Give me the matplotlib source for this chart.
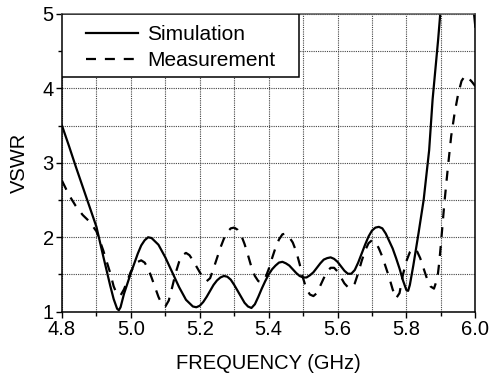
import matplotlib
matplotlib.use("Agg")
import matplotlib.pyplot as plt
from matplotlib.patches import Rectangle
from matplotlib.ticker import MultipleLocator

plt.rcParams['font.family'] = ['Liberation Sans', 'DejaVu Sans']

sim_f = [4.80, 4.82, 4.84, 4.86, 4.88, 4.90, 4.92, 4.94, 4.95, 4.96, 4.965, 4.97, 4.98, 4.99,
         5.00, 5.01, 5.02, 5.03, 5.04, 5.05, 5.06, 5.08, 5.10, 5.12, 5.14, 5.16, 5.18, 5.19,
         5.20, 5.21, 5.22, 5.23, 5.24, 5.25, 5.26, 5.27, 5.28, 5.29, 5.30, 5.31, 5.32, 5.33,
         5.34, 5.35, 5.36, 5.37, 5.38, 5.39, 5.40, 5.41, 5.42, 5.43, 5.44, 5.45, 5.46, 5.47,
         5.48, 5.49, 5.50, 5.51, 5.52, 5.53, 5.54, 5.55, 5.56, 5.57, 5.58, 5.59, 5.60, 5.61,
         5.62, 5.63, 5.64, 5.65, 5.66, 5.67, 5.68, 5.69, 5.70, 5.71, 5.72, 5.73, 5.74, 5.75,
         5.76, 5.77, 5.78, 5.79, 5.80, 5.805, 5.81, 5.82, 5.835, 5.85, 5.866, 5.876, 5.892,
         5.90, 5.92, 5.95, 5.98, 5.99, 6.00]
sim_v = [3.50, 3.23, 2.95, 2.68, 2.41, 2.14, 1.74, 1.35, 1.17, 1.04, 1.02, 1.06, 1.24, 1.38,
         1.52, 1.65, 1.78, 1.89, 1.96, 2.00, 1.99, 1.90, 1.73, 1.53, 1.33, 1.16, 1.07, 1.06,
         1.08, 1.13, 1.20, 1.28, 1.36, 1.42, 1.46, 1.48, 1.47, 1.43, 1.36, 1.28, 1.20, 1.12,
         1.07, 1.05, 1.10, 1.20, 1.31, 1.41, 1.50, 1.57, 1.62, 1.66, 1.67, 1.65, 1.62, 1.57,
         1.52, 1.48, 1.46, 1.46, 1.49, 1.53, 1.59, 1.65, 1.70, 1.72, 1.73, 1.71, 1.67, 1.61,
         1.55, 1.51, 1.51, 1.56, 1.66, 1.78, 1.90, 2.01, 2.09, 2.13, 2.14, 2.12, 2.05, 1.95,
         1.85, 1.72, 1.58, 1.42, 1.29, 1.28, 1.36, 1.62, 2.05, 2.50, 3.17, 3.85, 4.65,
         5.10, 5.80, 6.10, 5.80, 5.30, 4.83]

meas_f = [4.80, 4.82, 4.84, 4.86, 4.88, 4.90, 4.92, 4.94, 4.95, 4.96, 4.97, 4.98, 4.99,
          5.00, 5.01, 5.02, 5.03, 5.04, 5.05, 5.06, 5.07, 5.08, 5.09, 5.10, 5.11, 5.12,
          5.13, 5.14, 5.15, 5.16, 5.17, 5.18, 5.19, 5.20, 5.21, 5.22, 5.23, 5.24, 5.25,
          5.26, 5.27, 5.28, 5.29, 5.30, 5.31, 5.32, 5.33, 5.34, 5.35, 5.36, 5.37, 5.38,
          5.39, 5.40, 5.41, 5.42, 5.43, 5.44, 5.45, 5.46, 5.47, 5.48, 5.49, 5.50, 5.51,
          5.52, 5.53, 5.54, 5.55, 5.56, 5.57, 5.58, 5.59, 5.60, 5.61, 5.62, 5.63, 5.64,
          5.65, 5.66, 5.67, 5.68, 5.69, 5.70, 5.71, 5.72, 5.73, 5.74, 5.75, 5.76, 5.77,
          5.78, 5.79, 5.80, 5.81, 5.82, 5.83, 5.84, 5.85, 5.86, 5.87, 5.88, 5.89, 5.895,
          5.90, 5.91, 5.92, 5.93, 5.94, 5.95, 5.96, 5.97, 5.98, 5.99, 6.00]
meas_v = [2.76, 2.57, 2.42, 2.30, 2.21, 2.08, 1.82, 1.52, 1.34, 1.23, 1.22, 1.30, 1.42,
          1.54, 1.62, 1.67, 1.69, 1.66, 1.58, 1.46, 1.33, 1.20, 1.10, 1.07, 1.15, 1.33,
          1.52, 1.67, 1.76, 1.79, 1.76, 1.69, 1.61, 1.53, 1.45, 1.41, 1.45, 1.58, 1.72,
          1.86, 1.98, 2.07, 2.12, 2.13, 2.10, 2.03, 1.91, 1.76, 1.60, 1.48, 1.41, 1.40,
          1.45, 1.57, 1.72, 1.86, 1.97, 2.04, 2.05, 2.00, 1.93, 1.81, 1.64, 1.45, 1.30,
          1.23, 1.21, 1.25, 1.35, 1.45, 1.54, 1.59, 1.59, 1.54, 1.46, 1.38, 1.33, 1.32,
          1.38, 1.52, 1.68, 1.82, 1.92, 1.96, 1.94, 1.85, 1.74, 1.60, 1.46, 1.30, 1.18,
          1.25, 1.50, 1.68, 1.80, 1.85, 1.82, 1.72, 1.58, 1.44, 1.34, 1.31, 1.45, 1.65,
          1.90, 2.45, 2.92, 3.36, 3.67, 3.92, 4.10, 4.17, 4.14, 4.09, 4.03]

labels = ['Simulation', 'Measurement']
xticks = [4.8, 5.0, 5.2, 5.4, 5.6, 5.8, 6.0]
yticks = [1, 2, 3, 4, 5]

FS = 14.5
fig = plt.figure(figsize=(4.92, 3.77), dpi=100)
ax = fig.add_axes([62/492, 1 - 311.7/377, (475.3-62)/492, (311.7-14)/377])

l1, = ax.plot(sim_f, sim_v, color='black', lw=1.6, solid_joinstyle='round')
l2, = ax.plot(meas_f, meas_v, color='black', lw=1.6, linestyle=(0, (4.5, 4.0)))

ax.set_xlim(4.8, 6.0)
ax.set_ylim(1, 5)
ax.set_xticks(xticks)
ax.set_xticklabels([f'{t:.1f}' for t in xticks])
ax.set_yticks(yticks)
ax.set_yticklabels([str(t) for t in yticks])
ax.xaxis.set_minor_locator(MultipleLocator(0.1))
ax.yaxis.set_minor_locator(MultipleLocator(0.5))
ax.grid(True, which='both', color='#444444', linestyle=(0, (1, 1)), linewidth=0.8)
ax.set_axisbelow(True)
ax.tick_params(which='major', direction='out', length=4, width=1, labelsize=FS, pad=2)
ax.tick_params(which='minor', direction='out', length=3, width=1)
for s in ax.spines.values():
    s.set_linewidth(1.1)
ax.spines['top'].set_color('#555555')

ax.set_xlabel('FREQUENCY (GHz)', fontsize=FS, labelpad=11)
ax.set_ylabel('VSWR', fontsize=FS, labelpad=10)

# legend frame
frame_w = (299-62)/413.3
frame_h = (77-14)/297.7
ax.add_patch(Rectangle((0, 1-frame_h), frame_w, frame_h, transform=ax.transAxes,
                       facecolor='white', edgecolor='black', lw=1.1, zorder=3))
leg = ax.legend([l1, l2], labels, loc='upper left', bbox_to_anchor=(0.058, 0.963),
                frameon=False, fontsize=15, borderpad=0, borderaxespad=0,
                handlelength=2.5, handletextpad=0.45, labelspacing=0.35)
leg.set_zorder(4)

fig.savefig('out.png', dpi=100)
